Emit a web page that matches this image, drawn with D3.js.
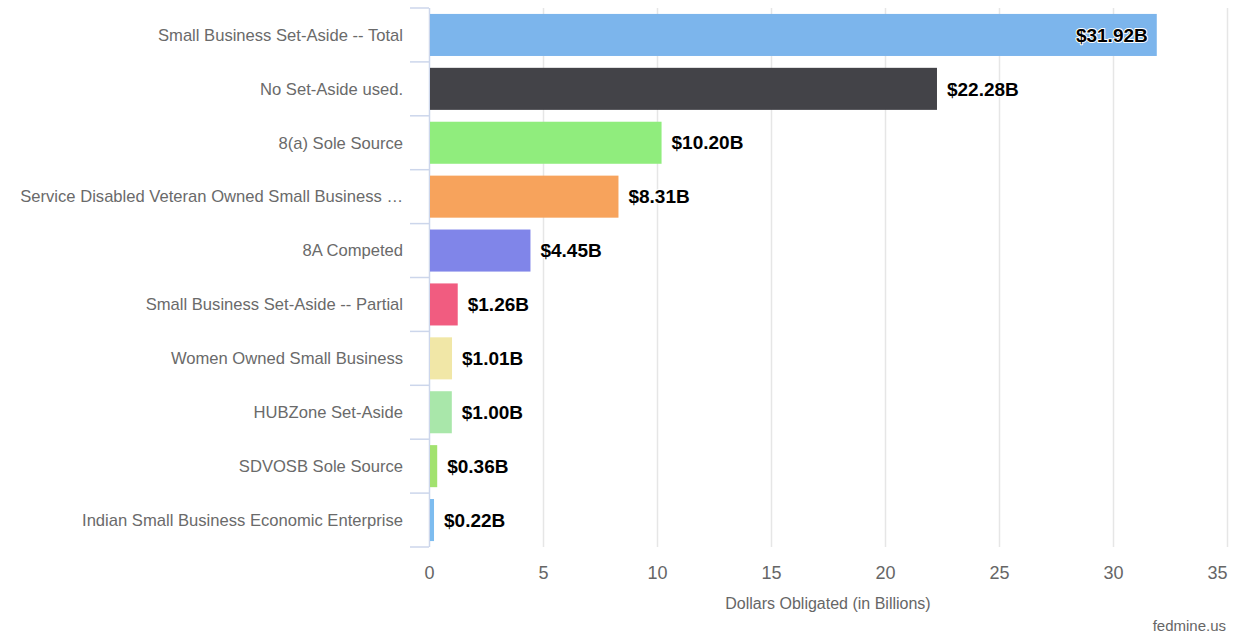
<!DOCTYPE html>
<html>
<head>
<meta charset="utf-8">
<script src="https://cdn.jsdelivr.net/npm/d3@7"></script>
<style>
  html, body { margin: 0; padding: 0; background: #fff; }
  svg { display: block; font-family: "Liberation Sans", Arial, sans-serif; }
</style>
</head>
<body>
<svg id="chart" width="1238" height="634"></svg>
<script>
// Obligations by set-aside type, in billions of dollars
const categories = [
  "Small Business Set-Aside -- Total",
  "No Set-Aside used.",
  "8(a) Sole Source",
  "Service Disabled Veteran Owned Small Business …",
  "8A Competed",
  "Small Business Set-Aside -- Partial",
  "Women Owned Small Business",
  "HUBZone Set-Aside",
  "SDVOSB Sole Source",
  "Indian Small Business Economic Enterprise"
];
const values = [31.92, 22.28, 10.20, 8.31, 4.45, 1.26, 1.01, 1.00, 0.36, 0.22];
const barColors = [
  "#7cb5ec", "#434348", "#90ed7d", "#f7a35c", "#8085e9",
  "#f15c80", "#f1e7a7", "#a9e7aa", "#a2e26f", "#7dbcef"
];
const xTicks = [0, 5, 10, 15, 20, 25, 30, 35];
const xTitle = "Dollars Obligated (in Billions)";
const credit = "fedmine.us";

const svg = d3.select("#chart");
const plot = { left: 429, right: 1227, top: 8, bottom: 547 };

const x = d3.scaleLinear().domain([0, 35]).range([plot.left, plot.right]);
const y = d3.scaleBand().domain(categories).range([plot.top, plot.bottom])
  .paddingInner(0.22).paddingOuter(0.11);

// vertical grid lines
svg.append("g").selectAll("line").data(xTicks.filter(t => t > 0)).join("line")
  .attr("x1", d => x(d) + 0.5).attr("x2", d => x(d) + 0.5)
  .attr("y1", plot.top).attr("y2", plot.bottom)
  .attr("stroke", "#e6e6e6").attr("stroke-width", 1.5);

// x axis tick labels (the last one is kept inside the chart's right edge)
const xAxis = d3.axisBottom(x).tickValues(xTicks).tickSize(0).tickPadding(0);
const gx = svg.append("g").attr("transform", `translate(0,${plot.bottom + 19})`).call(xAxis);
gx.select(".domain").remove();
gx.selectAll("text").attr("font-size", 18).attr("fill", "#666")
  .attr("font-family", "Liberation Sans, Arial, sans-serif");
gx.selectAll(".tick").filter(d => d === xTicks[xTicks.length - 1])
  .select("text").attr("text-anchor", "end");

// category axis line and band boundary ticks
const bandStep = (plot.bottom - plot.top) / categories.length;
const gy = svg.append("g");
gy.append("line").attr("x1", plot.left + 0.5).attr("x2", plot.left + 0.5)
  .attr("y1", plot.top).attr("y2", plot.bottom)
  .attr("stroke", "#ccd6eb").attr("stroke-width", 1.5);
gy.selectAll("line.tick").data(d3.range(categories.length + 1)).join("line")
  .attr("class", "tick")
  .attr("x1", plot.left - 19).attr("x2", plot.left)
  .attr("y1", i => plot.top + i * bandStep).attr("y2", i => plot.top + i * bandStep)
  .attr("stroke", "#ccd6eb").attr("stroke-width", 1.5);

// category labels
gy.selectAll("text").data(categories).join("text")
  .attr("x", plot.left - 26)
  .attr("y", d => y(d) + y.bandwidth() / 2)
  .attr("dy", "0.35em")
  .attr("text-anchor", "end")
  .attr("font-size", 16.6)
  .attr("fill", "#6a6a6a")
  .text(d => d);

// bars
svg.append("g").selectAll("rect").data(values).join("rect")
  .attr("x", x(0) + 1)
  .attr("y", (d, i) => y(categories[i]))
  .attr("width", d => Math.max(0, x(d) - x(0) - 1))
  .attr("height", y.bandwidth())
  .attr("fill", (d, i) => barColors[i]);

// value labels: outside the bar end, or inside if they would overflow the plot
const labels = svg.append("g").selectAll("text").data(values).join("text")
  .attr("y", (d, i) => y(categories[i]) + y.bandwidth() / 2)
  .attr("dy", "0.35em")
  .attr("font-size", 19)
  .attr("font-weight", "bold")
  .attr("fill", "#000")
  .attr("stroke", "#fff")
  .attr("stroke-width", 2)
  .attr("stroke-linejoin", "round")
  .attr("paint-order", "stroke")
  .text(d => "$" + d.toFixed(2) + "B");

labels.each(function(d) {
  const w = this.getComputedTextLength();
  const sel = d3.select(this);
  if (x(d) + 10 + w > plot.right) {
    sel.attr("x", x(d) - 9).attr("text-anchor", "end");
  } else {
    sel.attr("x", x(d) + 10).attr("text-anchor", "start");
  }
});

// axis title
svg.append("text")
  .attr("x", (plot.left + plot.right) / 2)
  .attr("y", 609)
  .attr("text-anchor", "middle")
  .attr("font-size", 16)
  .attr("fill", "#666")
  .text(xTitle);

// credit
svg.append("text")
  .attr("x", 1226)
  .attr("y", 631)
  .attr("text-anchor", "end")
  .attr("font-size", 15)
  .attr("fill", "#666")
  .text(credit);
</script>
</body>
</html>
